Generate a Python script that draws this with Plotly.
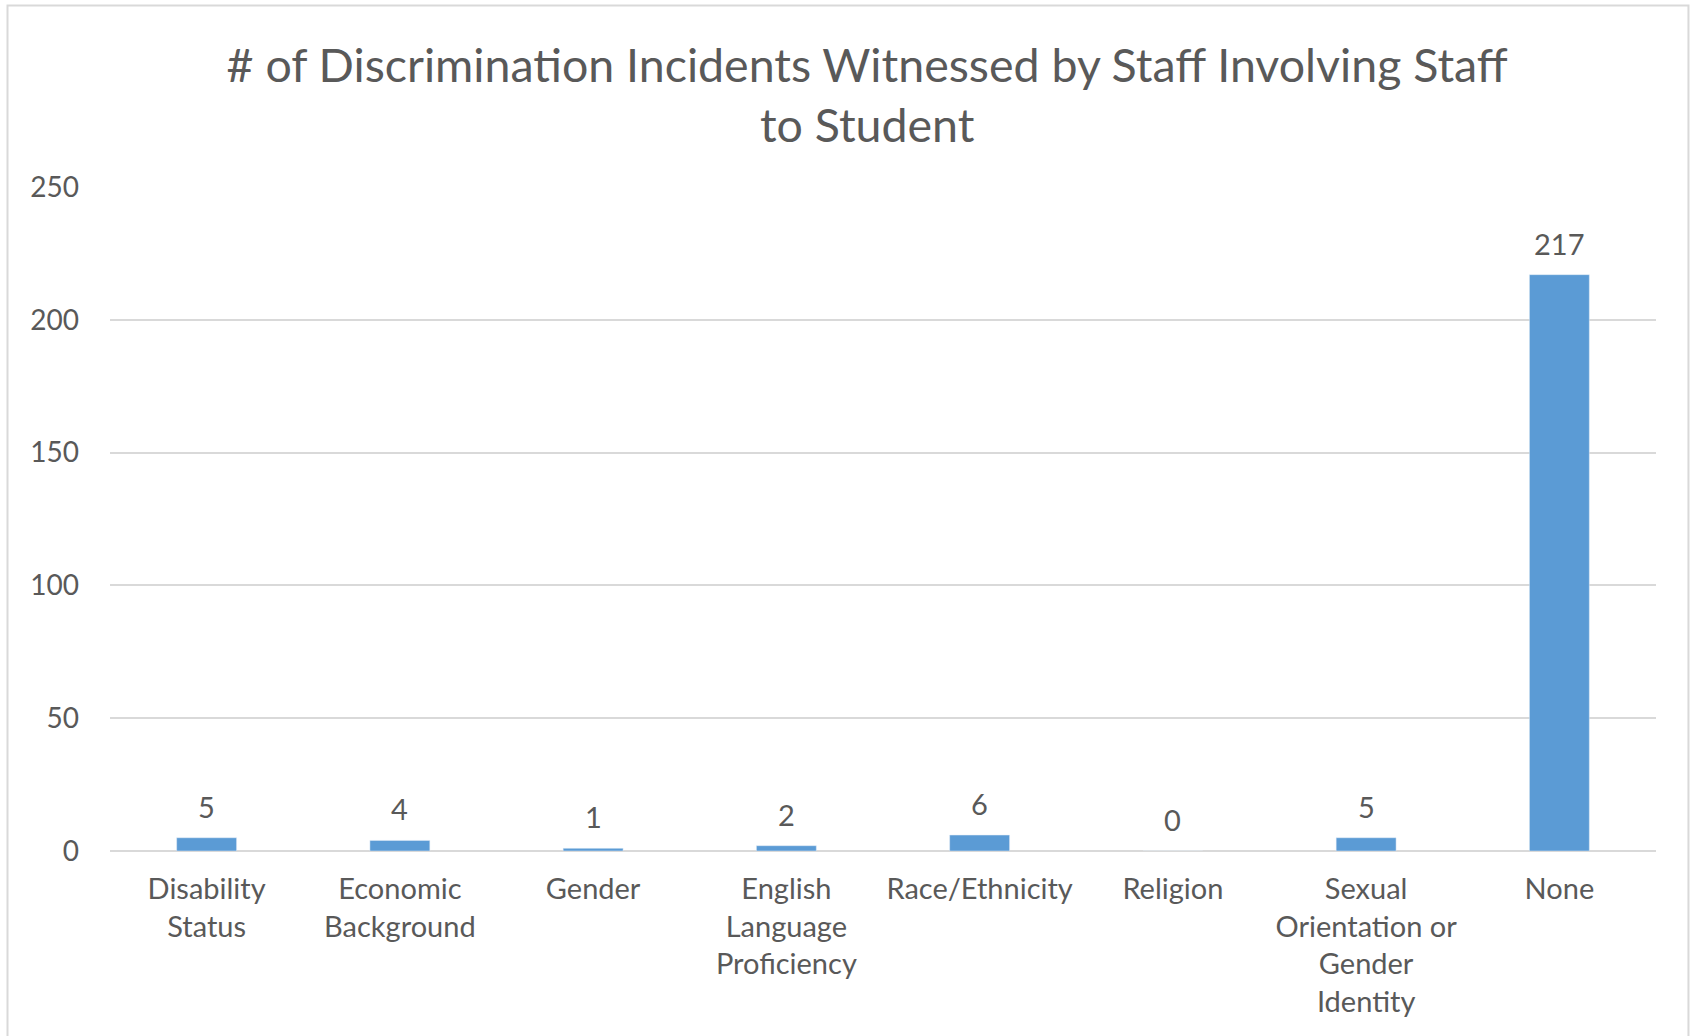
import plotly.graph_objects as go

categories = ["Disability<br>Status", "Economic<br>Background", "Gender",
              "English<br>Language<br>Proficiency", "Race/Ethnicity", "Religion",
              "Sexual<br>Orientation or<br>Gender<br>Identity", "None"]
incidents = [5, 4, 1, 2, 6, 0, 5, 217]
y_ticks = [0, 50, 100, 150, 200, 250]

title_text = "# of Discrimination Incidents Witnessed by Staff Involving Staff<br>to Student"

grey_text = "#595959"
grid_col = "#D9D9D9"

fig = go.Figure()
fig.add_trace(go.Bar(
    x=categories,
    y=incidents,
    marker=dict(color="#5B9BD5"),
    cliponaxis=False,
))

# value labels above each bar
for cat, val in zip(categories, incidents):
    fig.add_annotation(x=cat, y=val, text=str(val), showarrow=False,
                       yanchor="bottom", yshift=12,
                       font=dict(size=29, color=grey_text))

fig.update_layout(
    width=1697, height=1036,
    paper_bgcolor="white", plot_bgcolor="white",
    font=dict(family="Lato", color=grey_text),
    title=dict(text=title_text, x=0.511, xanchor="center", y=0.921, yanchor="middle",
               yref="container", font=dict(size=46.5, color=grey_text)),
    margin=dict(l=110, r=41, t=187, b=185),
    bargap=0.69,
    showlegend=False,
    shapes=[dict(type="rect", xref="paper", yref="paper",
                 x0=-0.0663, x1=1.021, y0=-0.3, y1=1.2735,
                 line=dict(color=grid_col, width=2), layer="below")],
)
fig.update_yaxes(range=[0, 250], tickvals=y_ticks, showgrid=True, gridcolor=grid_col,
                 gridwidth=2, zeroline=True, zerolinecolor=grid_col, zerolinewidth=2,
                 tickfont=dict(size=28, color=grey_text), ticks="", ticklen=0,
                 ticklabelstandoff=30)
fig.update_xaxes(showgrid=False, tickfont=dict(size=29, color=grey_text), ticks="",
                 tickangle=0, showline=False, ticklabelstandoff=18)

fig.write_html("out.html", config={"displayModeBar": False},
               post_script="document.body.style.margin='0';")
